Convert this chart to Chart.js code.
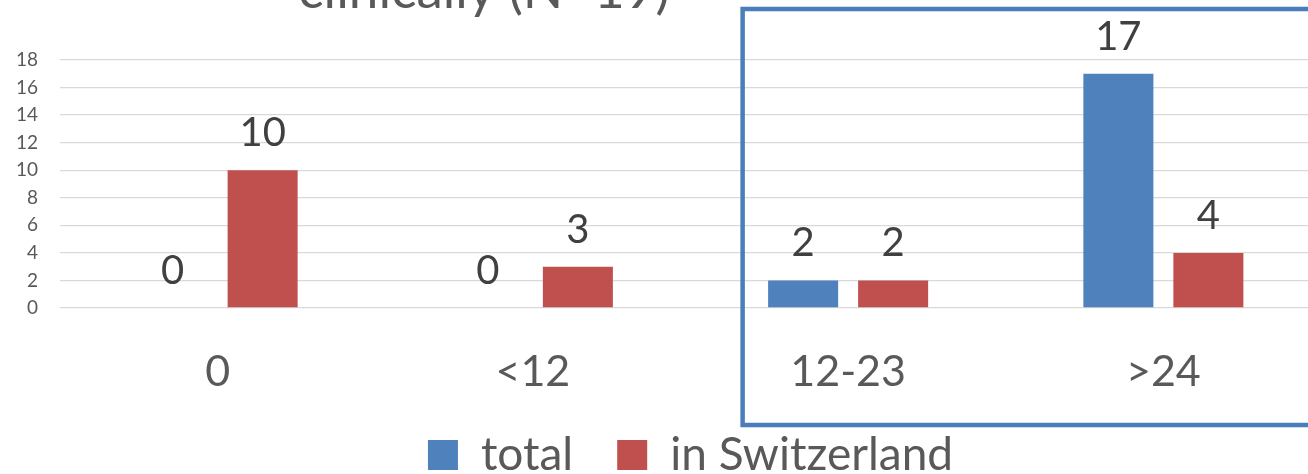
<!DOCTYPE html>
<html>
<head>
<meta charset="utf-8">
<script src="https://cdn.jsdelivr.net/npm/chart.js@4/dist/chart.umd.min.js"></script>
<style>
  html, body { margin: 0; padding: 0; background: #ffffff; overflow: hidden; }
  #frame { position: relative; width: 1308px; height: 474px; overflow: hidden; background: #ffffff; }
  #chart { position: absolute; left: 0; top: 0; }
</style>
</head>
<body>
<div id="frame">
  <canvas id="chart" width="1321" height="488"></canvas>
</div>
<script>
// Months since diagnosis, grouped
const categories = ['0', '<12', '12-23', '>24'];
const totalValues = [0, 0, 2, 17];
const swissValues = [10, 3, 2, 4];
const seriesNames = ['total', 'in Switzerland'];
const yTicks = [0, 2, 4, 6, 8, 10, 12, 14, 16, 18];
const titleText = 'clinically (N=19)';

const BLUE = '#4F81BD';
const RED = '#C0504D';
const TEXT = '#595959';
const LABEL = '#404040';
const FONT = 'Lato, "Open Sans", sans-serif';

Chart.defaults.font.family = FONT;

// Title line, set left of centre and running off the top edge
const titlePlugin = {
  id: 'titleLine',
  afterDraw(chart) {
    const ctx = chart.ctx;
    ctx.save();
    ctx.font = '53px ' + FONT;
    ctx.fillStyle = TEXT;
    ctx.textAlign = 'center';
    ctx.textBaseline = 'alphabetic';
    ctx.fillText(titleText, 484, 8);
    ctx.restore();
  }
};

// Value labels above each bar
const valueLabels = {
  id: 'valueLabels',
  afterDatasetsDraw(chart) {
    const ctx = chart.ctx;
    ctx.save();
    ctx.font = '40px ' + FONT;
    ctx.fillStyle = LABEL;
    ctx.textAlign = 'center';
    ctx.textBaseline = 'alphabetic';
    chart.data.datasets.forEach((ds, di) => {
      const meta = chart.getDatasetMeta(di);
      meta.data.forEach((bar, i) => {
        ctx.fillText(String(ds.data[i]), bar.x, bar.y - 24);
      });
    });
    ctx.restore();
  }
};

// Highlight frame around the two longer groups
const highlightFrame = {
  id: 'highlightFrame',
  afterDraw(chart) {
    const ctx = chart.ctx;
    const x = chart.scales.x;
    const left = x.getPixelForValue(2) - 105.5;
    ctx.save();
    ctx.strokeStyle = '#4A7EBB';
    ctx.lineWidth = 4.5;
    ctx.strokeRect(left, 9, chart.width + 20 - left, 416);
    ctx.restore();
  }
};

new Chart(document.getElementById('chart'), {
  type: 'bar',
  data: {
    labels: categories,
    datasets: [
      { label: seriesNames[0], data: totalValues, backgroundColor: BLUE, borderWidth: 0 },
      { label: seriesNames[1], data: swissValues, backgroundColor: RED, borderWidth: 0 }
    ]
  },
  options: {
    responsive: false,
    devicePixelRatio: 1,
    animation: false,
    layout: { padding: { top: 60, left: 0, right: 0, bottom: 0 } },
    datasets: {
      bar: { categoryPercentage: 0.571, barPercentage: 0.778 }
    },
    scales: {
      x: {
        afterFit(scale) { scale.height = 80; },
        grid: { display: false, drawTicks: false },
        border: { display: false },
        ticks: { color: TEXT, padding: 38, font: { size: 43 } }
      },
      y: {
        min: yTicks[0],
        max: yTicks[yTicks.length - 1],
        afterFit(scale) { scale.width = 60; },
        grid: { color: '#D9D9D9', lineWidth: 1.3, drawTicks: false },
        border: { display: false },
        ticks: {
          color: TEXT,
          padding: 22,
          stepSize: yTicks[1] - yTicks[0],
          autoSkip: false,
          font: { size: 19 }
        }
      }
    },
    plugins: {
      title: { display: false },
      tooltip: { enabled: false },
      legend: {
        position: 'bottom',
        fullSize: false,
        labels: {
          color: TEXT,
          boxWidth: 30,
          boxHeight: 30,
          padding: 44,
          font: { size: 46 }
        }
      }
    }
  },
  plugins: [valueLabels, titlePlugin, highlightFrame]
});
</script>
</body>
</html>
